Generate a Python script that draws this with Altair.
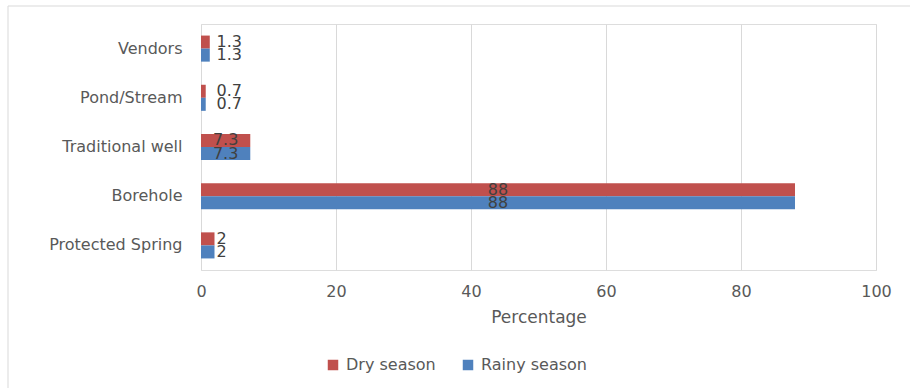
import altair as alt
import pandas as pd

# Water sources and the share of households using each, by season
sources = ["Vendors", "Pond/Stream", "Traditional well", "Borehole", "Protected Spring"]
seasons = ["Dry season", "Rainy season"]
dry = [1.3, 0.7, 7.3, 88, 2]
rainy = [1.3, 0.7, 7.3, 88, 2]
colors = ["#C0504D", "#4F81BD"]
x_ticks = [0, 20, 40, 60, 80, 100]

rows = []
for s, d, r in zip(sources, dry, rainy):
    rows.append({"source": s, "season": seasons[0], "pct": d})
    rows.append({"source": s, "season": seasons[1], "pct": r})
df = pd.DataFrame(rows)

FONT = "DejaVu Sans"
TEXT = "#595959"
W, H = 675, 246

y_enc = alt.Y(
    "source:N",
    sort=sources,
    scale=alt.Scale(paddingInner=0.47, paddingOuter=0.235),
    axis=alt.Axis(
        title=None, domain=False, ticks=False, grid=False,
        labelPadding=19, labelFontSize=16, labelColor=TEXT, labelFont=FONT,
    ),
)
yoff = alt.YOffset("season:N", sort=seasons,
                   scale=alt.Scale(domain=seasons, paddingInner=0, paddingOuter=0))
x_scale = alt.Scale(domain=[0, 100], nice=False, zero=True)

bars = alt.Chart(df).mark_bar().encode(
    x=alt.X(
        "pct:Q", scale=x_scale,
        axis=alt.Axis(
            values=x_ticks, title="Percentage", grid=True, gridColor="#d9d9d9",
            gridWidth=1, domain=False, ticks=False, labelPadding=13,
            labelFlush=False, labelFontSize=16, labelColor=TEXT, labelFont=FONT,
            titleFontSize=17, titleFontWeight="normal", titleColor=TEXT,
            titleFont=FONT, titlePadding=10,
        ),
    ),
    y=y_enc,
    yOffset=yoff,
    color=alt.Color(
        "season:N", sort=seasons,
        scale=alt.Scale(domain=seasons, range=colors),
        legend=alt.Legend(
            title=None, orient="none", legendX=124, legendY=333,
            direction="horizontal", symbolType="square", symbolSize=110,
            symbolStrokeWidth=0, columnPadding=24, labelOffset=5,
            labelFontSize=16, labelColor=TEXT, labelFont=FONT,
        ),
    ),
)

# Labels: centred in long bars, just past the end of short ones
inside = alt.Chart(df).transform_filter("datum.pct >= 5").transform_calculate(
    lx="datum.pct / 2"
).mark_text(font=FONT, fontSize=16, color="#404040", baseline="middle", align="center").encode(
    x=alt.X("lx:Q", scale=x_scale), y=y_enc, yOffset=yoff, text=alt.Text("pct:Q")
)
outside = alt.Chart(df).transform_filter("datum.pct < 5").transform_calculate(
    lx="max(datum.pct, 2)"
).mark_text(font=FONT, fontSize=16, color="#404040", baseline="middle", align="left", dx=2).encode(
    x=alt.X("lx:Q", scale=x_scale), y=y_enc, yOffset=yoff, text=alt.Text("pct:Q")
)

# Light frame along the top and left edges of the chart area
frame_df = pd.DataFrame({"k": [0]})
frame_left = alt.Chart(frame_df).mark_rule(color="#d9d9d9", strokeWidth=1).encode(
    x=alt.value(-193), y=alt.value(-18), y2=alt.value(364)
)
frame_top = alt.Chart(frame_df).mark_rule(color="#d9d9d9", strokeWidth=1).encode(
    x=alt.value(-193), x2=alt.value(709), y=alt.value(-18)
)

chart = alt.layer(bars, inside, outside, frame_left, frame_top).properties(
    width=W, height=H,
    autosize=alt.AutoSizeParams(type="none"),
    padding={"left": 201, "top": 24, "right": 34, "bottom": 118},
).configure_view(strokeWidth=0).configure(background="white")

chart.save("out.html", embed_options={"renderer": "svg", "actions": False})
